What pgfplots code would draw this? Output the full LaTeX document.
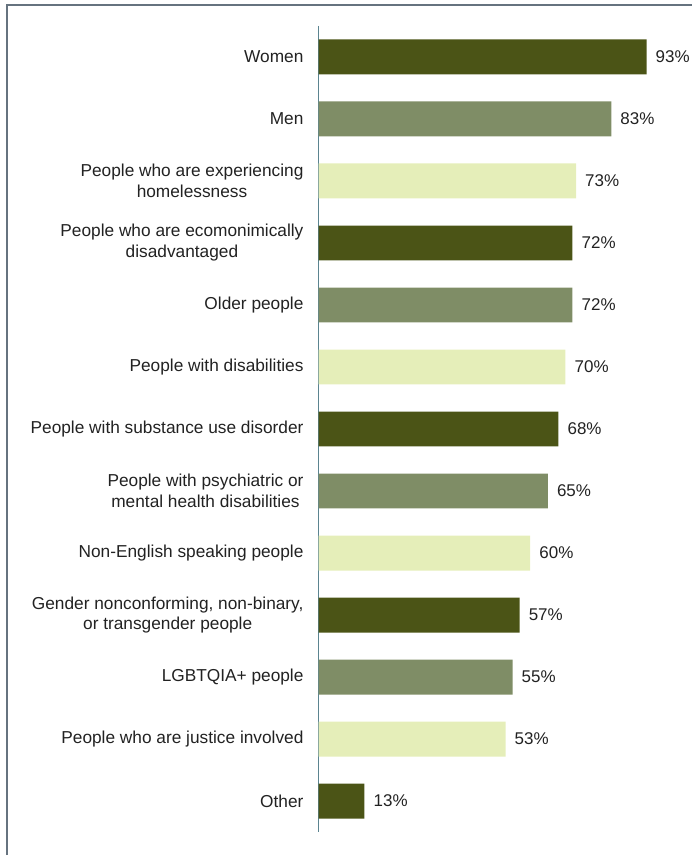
\documentclass[border=0pt]{standalone}
\usepackage{pgfplots}
\pgfplotsset{compat=1.18}
\usepackage{fontspec}
\setmainfont{Liberation Sans}
\definecolor{cdark}{HTML}{4B5416}
\definecolor{cmid}{HTML}{7F8D66}
\definecolor{clight}{HTML}{E5EEB9}
\definecolor{axcol}{HTML}{5B8490}
\definecolor{framecol}{HTML}{66737F}
\definecolor{txt}{HTML}{222222}
\begin{document}
\begin{tikzpicture}[x=1pt,y=1pt]
\path (0,0) rectangle (693,856);
\draw[framecol, line width=2pt] (7,0) -- (7,851) -- (693,851);
\begin{axis}[
  at={(319pt,23pt)}, anchor=south west,
  scale only axis, width=353pt, height=807pt,
  xbar, bar shift=0pt, bar width=0.564,
  xmin=0, xmax=100, ymin=-0.5, ymax=12.5, y dir=reverse,
  axis x line=none, axis y line*=left,
  y axis line style={axcol, line width=1.2pt, -},
  ytick={0,...,12},
  yticklabels={Women, Men, {People who are experiencing\\homelessness}, {People who are ecomonimically\\disadvantaged}, Older people, People with disabilities, People with substance use disorder, {People with psychiatric or\\mental health disabilities}, Non-English speaking people, {Gender nonconforming, non-binary,\\or transgender people}, LGBTQIA+ people, People who are justice involved, Other},
  major tick length=0pt,
  yticklabel style={align=center, inner sep=0pt, xshift=-15pt, text=txt, font=\fontsize{17.3}{21}\selectfont},
  point meta=x,
  nodes near coords={\pgfmathprintnumber[assume math mode=true]{\pgfplotspointmeta}\%},
  every node near coord/.append style={anchor=west, inner sep=0pt, xshift=9pt, text=txt, font=\fontsize{17}{21}\selectfont},
]
\addplot[fill=cdark, draw=none] coordinates {(93,0) (72,3) (68,6) (57,9) (13,12)};
\addplot[fill=cmid, draw=none] coordinates {(83,1) (72,4) (65,7) (55,10)};
\addplot[fill=clight, draw=none] coordinates {(73,2) (70,5) (60,8) (53,11)};
\end{axis}
\end{tikzpicture}
\end{document}
